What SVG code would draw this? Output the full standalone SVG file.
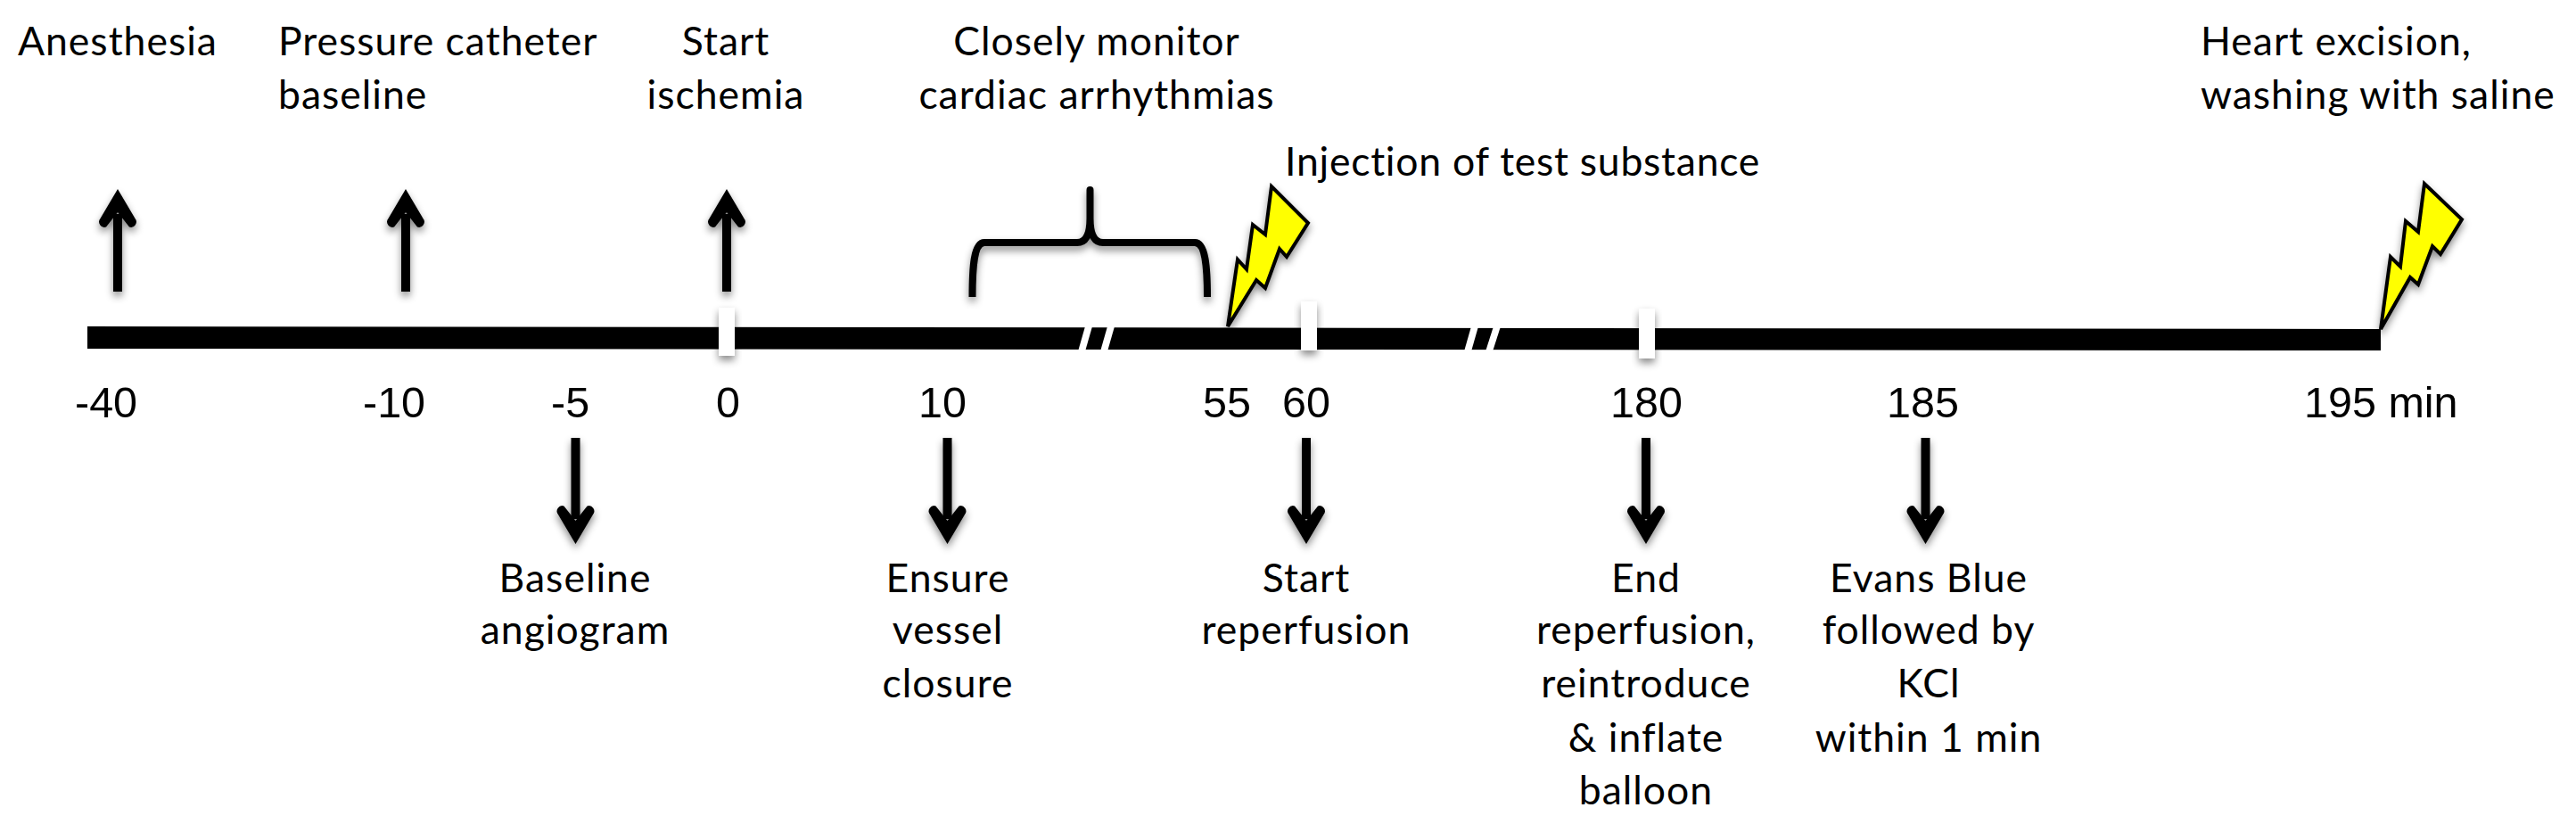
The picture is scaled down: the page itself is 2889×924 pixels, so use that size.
<svg xmlns="http://www.w3.org/2000/svg" width="2889" height="924" viewBox="0 0 2889 924">
<style>
.t{font-family:"Lato","Open Sans",sans-serif;font-size:44.500px;letter-spacing:1px;fill:#000}
.m{text-anchor:middle}
.n{font-family:"Liberation Sans",Arial,sans-serif;font-size:48.500px;fill:#000}
.a{fill:none;stroke:#000;stroke-width:10;marker-end:url(#h)}
.bolt{fill:#ff0;stroke:#000;stroke-width:4;stroke-linejoin:miter;filter:url(#s)}
.tick{fill:#fff;filter:url(#s)}
</style>
<defs>
<filter id="s" x="-40%" y="-40%" width="180%" height="180%"><feDropShadow dx="0" dy="5" stdDeviation="4" flood-color="#000" flood-opacity=".45"/></filter>
<marker id="h" markerUnits="userSpaceOnUse" markerWidth="60" markerHeight="60" refX="22" refY="30" orient="auto" viewBox="0 0 60 60"><path d="M50,30 L17,10.500 A6,6 0 0 0 7.500,17 L24,30 L7.500,43 A6,6 0 0 0 17,49.500 Z" fill="#000"/></marker>
</defs>
<rect width="2889" height="924" fill="#fff"/>
<g id="timeline">
<polygon points="98,366 2670,369 2670,393 98,391" fill="#000"/>
<g fill="#fff">
<polygon points="1217,366 1225,366 1217,394 1209,394"/><polygon points="1242,366 1250,366 1242,394 1234,394"/>
<polygon points="1650,366 1658,366 1650,394 1642,394"/><polygon points="1675,366 1683,366 1674,394 1666,394"/>
</g>
</g>
<g id="ticks">
<rect class="tick" x="806" y="345" width="18" height="54"/>
<rect class="tick" x="1459" y="338" width="18" height="55"/>
<rect class="tick" x="1838" y="346" width="18" height="56"/>
</g>
<g id="connectors" filter="url(#s)">
<path class="a" d="M132,327V240"/><path class="a" d="M455,327V240"/><path class="a" d="M815,327V240"/>
<path class="a" d="M645.500,491V582"/><path class="a" d="M1062.500,491V582"/><path class="a" d="M1465,491V582"/><path class="a" d="M1846,491V582"/><path class="a" d="M2159.500,491V582"/>
</g>
<g id="brace" filter="url(#s)"><path d="M1090.500,333C1090.500,300 1092,272 1104,272H1208C1218,272 1222.500,262 1222.500,245V213V245C1222.500,262 1227,272 1237,272H1340C1352,272 1354,300 1354,333" fill="none" stroke="#000" stroke-width="8" stroke-linejoin="round"/></g>
<g id="bolt-injection"><polygon class="bolt" points="1377,366 1388,291 1398,302 1405,252 1419,263 1426,209 1467,250 1443,288 1435,279 1419,323 1409,314"/></g>
<g id="bolt-excision"><polygon class="bolt" points="2670,369 2681,288 2692,299 2698,248 2712,260 2719,206 2761,246 2737,285 2728,276 2712,319 2703,311"/></g>
<g id="scale">
<text class="n" x="84" y="468">-40</text><text class="n" x="407" y="468">-10</text><text class="n" x="618" y="468">-5</text><text class="n" x="803" y="468">0</text><text class="n" x="1030" y="468">10</text><text class="n" x="1349" y="468">55</text><text class="n" x="1438" y="468">60</text><text class="n" x="1806" y="468">180</text><text class="n" x="2116" y="468">185</text><text class="n" x="2584" y="468">195 min</text>
</g>
<g id="anesthesia"><text class="t" x="20" y="62">Anesthesia</text></g>
<g id="pressure-catheter"><text class="t" x="312" y="62">Pressure catheter</text><text class="t" x="312" y="122">baseline</text></g>
<g id="start-ischemia"><text class="t m" x="814" y="62">Start</text><text class="t m" x="814" y="122">ischemia</text></g>
<g id="monitor"><text class="t m" x="1230" y="62">Closely monitor</text><text class="t m" x="1230" y="122">cardiac arrhythmias</text></g>
<g id="injection"><text class="t" x="1441" y="197" style="letter-spacing:.75px">Injection of test substance</text></g>
<g id="heart-excision"><text class="t" x="2468" y="62">Heart excision,</text><text class="t" x="2468" y="122">washing with saline</text></g>
<g id="baseline-angiogram"><text class="t m" x="645" y="664">Baseline</text><text class="t m" x="645" y="722">angiogram</text></g>
<g id="ensure-closure"><text class="t m" x="1063" y="664">Ensure</text><text class="t m" x="1063" y="722">vessel</text><text class="t m" x="1063" y="782">closure</text></g>
<g id="start-reperfusion"><text class="t m" x="1465" y="664">Start</text><text class="t m" x="1465" y="722">reperfusion</text></g>
<g id="end-reperfusion"><text class="t m" x="1846" y="664">End</text><text class="t m" x="1846" y="722">reperfusion,</text><text class="t m" x="1846" y="782">reintroduce</text><text class="t m" x="1846" y="843">&amp; inflate</text><text class="t m" x="1846" y="902">balloon</text></g>
<g id="evans-blue"><text class="t m" x="2163" y="664">Evans Blue</text><text class="t m" x="2163" y="722">followed by</text><text class="t m" x="2163" y="782">KCl</text><text class="t m" x="2163" y="843">within 1 min</text></g>
</svg>
